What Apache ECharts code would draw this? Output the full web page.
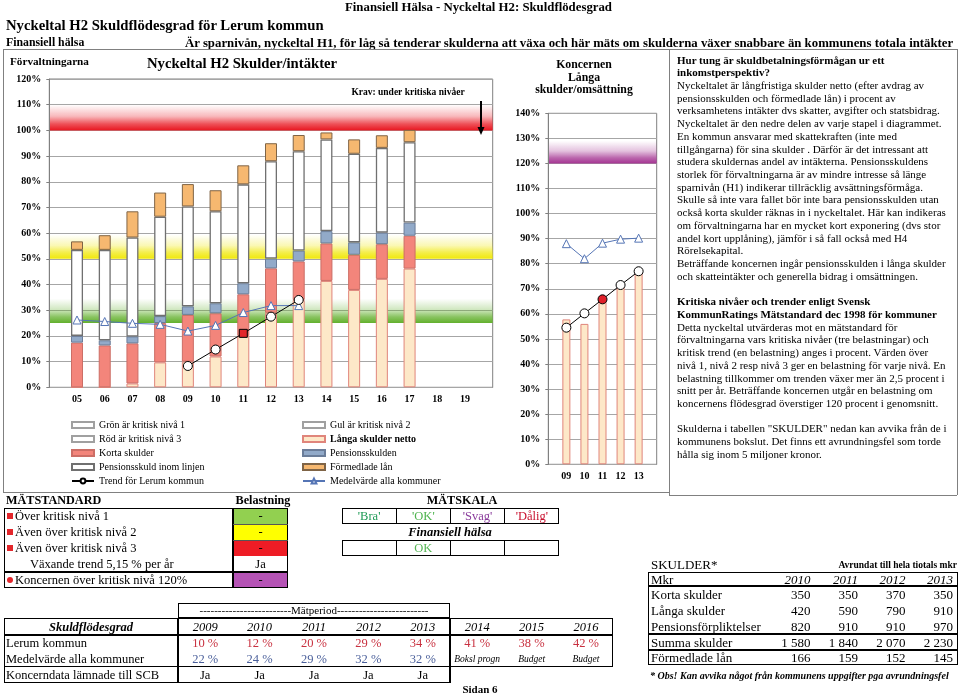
<!DOCTYPE html>
<html><head><meta charset="utf-8">
<script src="https://cdn.jsdelivr.net/npm/echarts@6/dist/echarts.min.js"></script>
<style>
html,body{margin:0;padding:0;background:#fff;}
#wrap{position:relative;width:959px;height:693px;overflow:hidden;font-family:"Liberation Serif","Times New Roman",serif;color:#000;}
#chart{position:absolute;left:0;top:0;width:959px;height:693px;}
#ov{position:absolute;left:0;top:0;width:959px;height:693px;pointer-events:none;}
.t{position:absolute;white-space:pre;}
.b{position:absolute;box-sizing:border-box;}
</style></head><body>
<div id="wrap"><div id="chart"></div><div id="ov"></div></div>
<script>
// ---------------- DATA ----------------
const years = ['05','06','07','08','09','10','11','12','13','14','15','16','17','18','19'];
const langaNetto        = [0,0,1.5,9.7,10,12,20,29,34,41.4,37.9,42.2,46.2,'-','-'];
const kortaSkulder      = [17.4,16.3,15.6,15.3,18.2,16.8,16.2,17.3,15.0,14.6,13.7,13.5,12.8,'-','-'];
const pensionsskulden   = [2.6,2.0,2.7,2.7,3.3,3.9,4.3,3.8,4.2,4.8,4.8,4.5,5.1,'-','-'];
const pensionInomLinjen = [33.5,35.2,38.5,38.7,38.9,35.8,38.5,37.9,38.7,35.7,34.5,33.0,31.3,'-','-'];
const formedladeLan     = [3.3,5.7,10.2,9.4,8.7,8.2,7.4,7.0,6.3,2.7,5.6,4.9,4.8,'-','-'];
const trendLerum        = ['-','-','-','-',8.3,14.7,21.0,27.5,34.0,'-','-','-','-','-','-'];
const medelAlla         = [26.2,25.6,24.9,24.5,21.9,24.1,29.1,31.8,31.8,'-','-','-','-','-','-'];
const trendRedIndex = 6; // year 11

const kYears  = ['09','10','11','12','13'];
const kLanga  = [57.8,56.0,65.0,70.6,77.5];
const kTrend  = [54.5,60.2,65.8,71.5,77.0];
const kMedel  = [88.0,82.0,88.2,89.8,90.2];
const kRedIndex = 2;

const tabYears   = ['2009','2010','2011','2012','2013','2014','2015','2016'];
const tabLerum   = ['10 %','12 %','20 %','29 %','34 %','41 %','38 %','42 %'];
const tabMedel   = ['22 %','24 %','29 %','32 %','32 %'];
const tabMedelNote = ['Boksl progn','Budget','Budget'];
const tabSCB     = ['Ja','Ja','Ja','Ja','Ja'];

const msLabels = ['Över kritisk nivå 1','Även över kritisk nivå 2','Även över kritisk nivå 3','Växande trend 5,15 % per år','Koncernen över kritisk nivå 120%'];
const msBelast = ['-','-','-','Ja','-'];
const scaleLabels = ["'Bra'","'OK'","'Svag'","'Dålig'"];
const scaleResult = ['','OK','',''];

const skYears = ['2010','2011','2012','2013'];
const skRows = [
  ['Korta skulder',['350','350','370','350']],
  ['Långa skulder',['420','590','790','910']],
  ['Pensionsförpliktelser',['820','910','910','970']],
  ['Summa skulder',['1 580','1 840','2 070','2 230']],
  ['Förmedlade lån',['166','159','152','145']]
];

const textLines = [
 ['b','Hur tung är skuldbetalningsförmågan ur ett'],
 ['b','inkomstperspektiv?'],
 ['','Nyckeltalet är långfristiga skulder netto (efter avdrag av'],
 ['','pensionsskulden och förmedlade lån) i procent av'],
 ['','verksamhetens intäkter dvs skatter, avgifter och statsbidrag.'],
 ['','Nyckeltalet är den nedre delen av varje stapel i diagrammet.'],
 ['','En kommun ansvarar med skattekraften (inte med'],
 ['','tillgångarna) för sina skulder . Därför är det intressant att'],
 ['','studera skuldernas andel av intäkterna. Pensionsskuldens'],
 ['','storlek för förvaltningarna är av mindre intresse så länge'],
 ['','sparnivån (H1) indikerar tillräcklig avsättningsförmåga.'],
 ['','Skulle så inte vara fallet bör inte bara pensionsskulden utan'],
 ['','också korta skulder räknas in i nyckeltalet. Här kan indikeras'],
 ['','om förvaltningarna har en mycket kort exponering (dvs stor'],
 ['','andel kort upplåning), jämför i så fall också med H4'],
 ['','Rörelsekapital.'],
 ['','Beträffande koncernen ingår pensionsskulden i långa skulder'],
 ['','och skatteintäkter och generella bidrag i omsättningen.'],
 ['',''],
 ['b','Kritiska nivåer och trender enligt Svensk'],
 ['b','KommunRatings Mätstandard dec 1998 för kommuner'],
 ['','Detta nyckeltal utvärderas mot en mätstandard för'],
 ['','förvaltningarna vars kritiska nivåer (tre belastningar) och'],
 ['','kritisk trend (en belastning) anges i procent. Värden över'],
 ['','nivå 1, nivå 2 resp nivå 3 ger en belastning för varje nivå. En'],
 ['','belastning tillkommer om trenden växer mer än 2,5 procent i'],
 ['','snitt per år. Beträffande koncernen utgår en belastning om'],
 ['','koncernens flödesgrad överstiger 120 procent i genomsnitt.'],
 ['',''],
 ['','Skulderna i tabellen "SKULDER" nedan kan avvika från de i'],
 ['','kommunens bokslut. Det finns ett avrundningsfel som torde'],
 ['','hålla sig inom 5 miljoner kronor.']
];

// ---------------- CHART ----------------
const FF = '"Liberation Serif","Times New Roman",serif';
const chart = echarts.init(document.getElementById('chart'));
const cats = ['', ...years, ''];
const pad = a => ['-', ...a, '-'];
const kcats = ['', ...kYears, ''];

function band(rgb){
  const c = a => 'rgba(' + rgb.join(',') + ',' + a + ')';
  return new echarts.graphic.LinearGradient(0,0,0,1,[
    {offset:0,color:c(0)},{offset:0.45,color:c(0.3)},{offset:0.75,color:c(0.75)},{offset:1,color:c(1)}]);
}
const GREEN=[98,176,44], YELLOW=[240,232,10], RED=[232,22,32], PURPLE=[164,52,146];

const axisLbl = {fontFamily:FF, fontWeight:'bold', fontSize:10, color:'#000'};
const gridLine = {lineStyle:{color:'#A6A6A6', width:1}};

const trendData = pad(trendLerum).map((v,i)=> i-1===trendRedIndex ? {value:v, symbol:'rect', symbolSize:8, itemStyle:{color:'#E3262B', borderColor:'#000'}} : v);
const kTrendData = pad(kTrend).map((v,i)=> i-1===kRedIndex ? {value:v, itemStyle:{color:'#E0202A', borderColor:'#000'}} : v);

function barS(name, data, color, border, bw){
  return {type:'bar', name, stack:'a', barWidth:12, data:pad(data), z:3,
    itemStyle:{color, borderColor:border, borderWidth:bw||1}, emphasis:{disabled:true}};
}
function dummy(name){
  return {type:'bar', name, stack:'a', barWidth:12, data:[], itemStyle:{color:'#fff', borderColor:'#A0A0A0', borderWidth:1}};
}

const legendText = {fontFamily:FF, fontSize:10, color:'#000', lineHeight:14};
const legendBase = {orient:'vertical', top:418, padding:0, itemWidth:22, itemHeight:6, itemGap:0, selectedMode:false, textStyle:legendText};

const option = {
  animation:false,
  grid:[
    {left:49.3, top:79, width:443.4, height:308.3, show:true, borderColor:'#808080', borderWidth:1, containLabel:false},
    {left:548.3, top:113.3, width:108.4, height:351, show:true, borderColor:'#808080', borderWidth:1, containLabel:false}
  ],
  xAxis:[
    {type:'category', gridIndex:0, data:cats, boundaryGap:false, axisLine:{lineStyle:{color:'#808080'}}, axisTick:{show:false},
     axisLabel:Object.assign({margin:7, interval:0}, axisLbl), splitLine:{show:false}},
    {type:'category', gridIndex:1, data:kcats, boundaryGap:false, axisLine:{lineStyle:{color:'#808080'}}, axisTick:{show:false},
     axisLabel:Object.assign({margin:7, interval:0}, axisLbl), splitLine:{show:false}}
  ],
  yAxis:[
    {type:'value', gridIndex:0, min:0, max:120, interval:10, z:1,
     axisLine:{show:true, lineStyle:{color:'#808080'}}, axisTick:{show:true, length:3, lineStyle:{color:'#808080'}},
     axisLabel:Object.assign({formatter:'{value}%', margin:8}, axisLbl), splitLine:gridLine},
    {type:'value', gridIndex:1, min:0, max:140, interval:10, z:1,
     axisLine:{show:true, lineStyle:{color:'#808080'}}, axisTick:{show:true, length:3, lineStyle:{color:'#808080'}},
     axisLabel:Object.assign({formatter:'{value}%', margin:8}, axisLbl), splitLine:gridLine}
  ],
  legend:[
    Object.assign({left:71, data:[
      {name:'Grön är kritisk nivå 1', icon:'rect'},{name:'Röd är kritisk nivå 3', icon:'rect'},{name:'Korta skulder', icon:'rect'},
      {name:'Pensionsskuld inom linjen', icon:'rect'},'Trend för Lerum kommun']}, legendBase),
    Object.assign({left:302, data:[
      {name:'Gul är kritisk nivå 2', icon:'rect'},{name:'Långa skulder netto', icon:'rect', textStyle:{fontWeight:'bold'}},
      {name:'Pensionsskulden', icon:'rect'},{name:'Förmedlade lån', icon:'rect'},'Medelvärde alla kommuner']}, legendBase)
  ],
  series:[
    {type:'line', name:'band1', xAxisIndex:0, yAxisIndex:0, data:[], z:0, silent:true,
     markArea:{silent:true, data:[
       [{yAxis:25, itemStyle:{color:band(GREEN)}},{yAxis:34.5}],
       [{yAxis:50, itemStyle:{color:band(YELLOW)}},{yAxis:59.5}],
       [{yAxis:100, itemStyle:{color:band(RED)}},{yAxis:110}]
     ]}},
    dummy('Grön är kritisk nivå 1'), dummy('Gul är kritisk nivå 2'), dummy('Röd är kritisk nivå 3'),
    barS('Långa skulder netto', langaNetto, '#FDE8C8', '#E0857B'),
    barS('Korta skulder', kortaSkulder, '#F3857B', '#CC6E66'),
    barS('Pensionsskulden', pensionsskulden, '#92AAC9', '#6B7D99'),
    barS('Pensionsskuld inom linjen', pensionInomLinjen, '#FFFFFF', '#707070', 1.3),
    barS('Förmedlade lån', formedladeLan, '#F6B870', '#7F6446'),
    {type:'line', name:'Medelvärde alla kommuner', xAxisIndex:0, yAxisIndex:0, data:pad(medelAlla), z:4,
     symbol:'triangle', symbolSize:8, showAllSymbol:true, lineStyle:{color:'#5575B5', width:1},
     itemStyle:{color:'#fff', borderColor:'#5575B5', borderWidth:1}},
    {type:'line', name:'Trend för Lerum kommun', xAxisIndex:0, yAxisIndex:0, data:trendData, z:5,
     symbol:'circle', symbolSize:9, showAllSymbol:true, lineStyle:{color:'#000', width:1},
     itemStyle:{color:'#fff', borderColor:'#000', borderWidth:1}},
    // Koncernen
    {type:'line', name:'band2', xAxisIndex:1, yAxisIndex:1, data:[], z:0, silent:true,
     markArea:{silent:true, data:[[{yAxis:120, itemStyle:{color:band(PURPLE)}},{yAxis:129}]]}},
    {type:'bar', name:'Koncernen långa skulder/omsättning', xAxisIndex:1, yAxisIndex:1, data:pad(kLanga), barWidth:8, z:3,
     itemStyle:{color:'#FDE8C8', borderColor:'#E0857B', borderWidth:1}},
    {type:'line', name:'Koncernen medelvärde', xAxisIndex:1, yAxisIndex:1, data:pad(kMedel), z:4,
     symbol:'triangle', symbolSize:8, lineStyle:{color:'#5575B5', width:1},
     itemStyle:{color:'#fff', borderColor:'#5575B5', borderWidth:1}},
    {type:'line', name:'Koncernen trend', xAxisIndex:1, yAxisIndex:1, data:kTrendData, z:5,
     symbol:'circle', symbolSize:9, lineStyle:{color:'#000', width:1},
     itemStyle:{color:'#fff', borderColor:'#000', borderWidth:1}}
  ],
  graphic:[
    {type:'line', shape:{x1:481, y1:101, x2:481, y2:128}, style:{stroke:'#000', lineWidth:2}, z:10},
    {type:'polygon', shape:{points:[[477.5,127],[484.5,127],[481,135]]}, style:{fill:'#000'}, z:10},
    {type:'text', x:408, y:92.5, style:{text:'Krav: under kritiska nivåer', font:'bold 9.5px '+FF, fill:'#000', align:'center', verticalAlign:'middle'}, z:10}
  ]
};
chart.setOption(option);

// ---------------- OVERLAY TEXT / TABLES ----------------
const ov = document.getElementById('ov');
function T(x,y,s,o){ o=o||{}; const d=document.createElement('div'); d.className='t'; const fs=o.fs||12.5;
  d.style.fontSize=fs+'px'; d.style.lineHeight=fs+'px'; d.style.top=(y-fs/2)+'px'; d.style.left=x+'px';
  if(o.b) d.style.fontWeight='bold'; if(o.i) d.style.fontStyle='italic'; if(o.c) d.style.color=o.c;
  if(o.a==='c') d.style.transform='translateX(-50%)'; if(o.a==='r') d.style.transform='translateX(-100%)';
  d.textContent=s; ov.appendChild(d); return d; }
function R(x,y,w,h,o){ o=o||{}; const d=document.createElement('div'); d.className='b';
  d.style.left=x+'px'; d.style.top=y+'px'; d.style.width=w+'px'; d.style.height=h+'px';
  if(o.bg) d.style.background=o.bg; if(o.bd) d.style.border=o.bd; if(o.r) d.style.borderRadius=o.r;
  ov.appendChild(d); return d; }
function HL(x1,x2,y,w,c){ return R(x1,y-(w||1)/2,x2-x1,(w||1),{bg:c||'#000'}); }
function VL(x,y1,y2,w,c){ return R(x-(w||1)/2,y1,(w||1),y2-y1,{bg:c||'#000'}); }

// header
T(345,7,'Finansiell Hälsa - Nyckeltal H2: Skuldflödesgrad',{b:1,fs:12.8});
T(6,25,'Nyckeltal H2 Skuldflödesgrad för Lerum kommun',{b:1,fs:14.7});
T(6,43,'Finansiell hälsa',{b:1,fs:11.8});
T(185,43,'Är sparnivån, nyckeltal H1, för låg så tenderar skulderna att växa och här mäts om skulderna växer snabbare än kommunens totala intäkter',{b:1,fs:12.8});

// frame
const FC='#808080';
HL(3,957,49.5,1,FC); VL(3,49,492,1,FC); HL(3,669,492,1,FC); VL(669,49,495,1,FC); HL(669,957,495,1,FC); VL(957,49,495,1,FC);

// chart titles
T(10,62,'Förvaltningarna',{b:1,fs:11.2});
T(147,63.5,'Nyckeltal H2 Skulder/intäkter',{b:1,fs:14.7});
T(584,65,'Koncernen',{b:1,fs:11.8,a:'c'});
T(584,77.5,'Långa',{b:1,fs:11.8,a:'c'});
T(584,90,'skulder/omsättning',{b:1,fs:11.8,a:'c'});

// right text
const LH=12.72;
textLines.forEach((l,k)=>{
  if(!l[1]) return;
  T(677, 60 + k*LH, l[1], {fs:11, b: l[0]==='b'});
});

// MÄTSTANDARD
T(6,500,'MÄTSTANDARD',{b:1,fs:12.2});
T(263,500,'Belastning',{b:1,fs:12.2,a:'c'});
T(462,500,'MÄTSKALA',{b:1,fs:12.2,a:'c'});
const msColors=['#92D050','#FFFF00','#EE1C25','#FFFFFF','#B553B5'];
const rowH=16, msTop=508;
msLabels.forEach((s,i)=>{
  const y=msTop+i*rowH;
  R(233,y,55,rowH,{bg:msColors[i]});
  T(260.5,y+8,msBelast[i],{a:'c',fs:12.5});
  if(i<3) R(7,y+5,6,6,{bg:'#E3262B'});
  if(i===4) R(7,y+5,6,6,{bg:'#E3262B',r:'50%'});
  T(i===3?30:15,y+8,s,{fs:12.5});
});
R(4,msTop,284,rowH*5,{bd:'1.5px solid #000'});
VL(233,msTop,msTop+rowH*5,1.2);
HL(4,288,msTop+rowH*4,1.5);
for(let i=1;i<3;i++) HL(233,288,msTop+rowH*i,0.8,'#555');

// MÄTSKALA
const scX=342, scW=54.25;
const scColors=['#1E9A55','#4DB34D','#8A3C9C','#C8102E'];
scaleLabels.forEach((s,i)=>{ T(scX+scW*i+scW/2,516,s,{a:'c',fs:12.5,c:scColors[i]}); });
R(scX,508,scW*4,16,{bd:'1.5px solid #000'});
for(let i=1;i<4;i++) VL(scX+scW*i,508,524,1.2);
T(450,532,'Finansiell hälsa',{b:1,i:1,fs:12.5,a:'c'});
scaleResult.forEach((s,i)=>{ if(s) T(scX+scW*i+scW/2,548,s,{a:'c',fs:12.5,c:'#55B555'}); });
R(scX,540,scW*4,16,{bd:'1.5px solid #000'});
for(let i=1;i<4;i++) VL(scX+scW*i,540,556,1.2);

// Skuldflödesgrad table
const c0=178, cw=54.4, cEnd=c0+cw*8;
const cx=i=>c0+cw*i+cw/2;
R(c0,603,cw*5,15,{bd:'1.5px solid #000'});
T(c0+cw*2.5,610,'-------------------------Mätperiod-------------------------',{a:'c',fs:11});
R(4,618,cEnd-4,49,{bd:'1.5px solid #000'});
HL(4,cEnd,635,1.5);
VL(c0,618,683,1.5); VL(c0+cw*5,618,683,1.5);
R(4,666,c0+cw*5-4,17,{bd:'1.5px solid #000'});
T(91,627,'Skuldflödesgrad',{b:1,i:1,a:'c',fs:12.5});
tabYears.forEach((s,i)=>T(cx(i),627,s,{i:1,a:'c',fs:12.5}));
T(6,643,'Lerum kommun',{fs:12.5});
tabLerum.forEach((s,i)=>T(cx(i),643,s,{a:'c',fs:12.5,c:'#C8303F'}));
T(6,659,'Medelvärde alla kommuner',{fs:12.5});
tabMedel.forEach((s,i)=>T(cx(i),659,s,{a:'c',fs:12.5,c:'#4A5F9A'}));
tabMedelNote.forEach((s,i)=>T(cx(i+5),660,s,{a:'c',fs:9.5,i:1}));
T(6,675,'Koncerndata lämnade till SCB',{fs:12.5});
tabSCB.forEach((s,i)=>T(cx(i),675,s,{a:'c',fs:12.5}));
T(480,689,'Sidan 6',{b:1,a:'c',fs:11});

// SKULDER table
T(651,564,'SKULDER*',{fs:13});
T(957,566,'Avrundat till hela tiotals mkr',{b:1,fs:9.5,a:'r'});
const skR=[810.5,858,905.5,953];
R(648,572,310,93,{bd:'1.5px solid #000'});
HL(648,958,586,1.2); HL(648,958,634,1.5); HL(648,958,650,1.5);
T(651,579,'Mkr',{fs:13});
skYears.forEach((s,i)=>T(skR[i],579,s,{i:1,a:'r',fs:13}));
const skY=[594.5,610,626,642,657.5];
skRows.forEach((r,j)=>{ T(651,skY[j],r[0],{fs:13}); r[1].forEach((v,i)=>T(skR[i],skY[j],v,{a:'r',fs:13})); });
T(650,676,'* Obs! Kan avvika något från kommunens uppgifter pga avrundningsfel',{b:1,i:1,fs:10});
</script>
</body></html>
